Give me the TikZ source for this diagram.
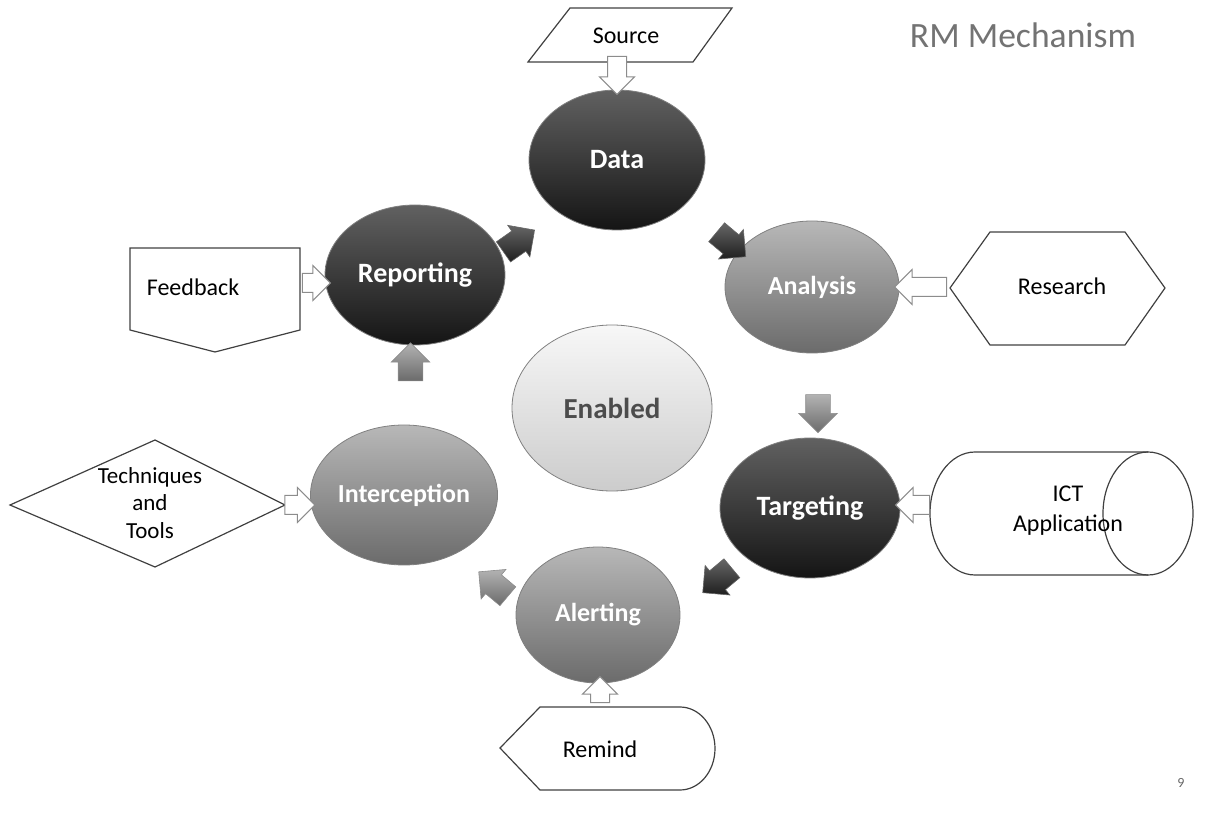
\documentclass[tikz,border=0pt]{standalone}
\usepackage{fontspec}
\setmainfont{Carlito}
\usetikzlibrary{shapes.geometric,shapes.arrows,calc}

\begin{document}
\begin{tikzpicture}[x=0.5pt,y=-0.5pt,
	blob/.style={ellipse,draw=black!50,line width=0.4pt,inner sep=0pt},
	darkblob/.style={blob,top color=black!62,bottom color=black!92,text=white,font=\bfseries\fontsize{14}{16}\selectfont},
	midblob/.style={blob,top color=black!28,bottom color=black!58,text=white,font=\bfseries\fontsize{13}{15}\selectfont},
	lightblob/.style={blob,top color=black!3,bottom color=black!20,text=black!70,font=\bfseries\fontsize{14.5}{16}\selectfont},
	lbl/.style={font=\fontsize{12}{14.5}\selectfont,align=center},
	boxline/.style={draw=black!75,line width=0.6pt},
	bigarr/.style={single arrow,minimum height=19pt,single arrow head extend=3.5pt,inner xsep=0pt,inner ysep=6pt},
	darkarr/.style={bigarr,top color=black!60,bottom color=black!88,draw=black!60,line width=0.3pt},
	midarr/.style={bigarr,top color=black!30,bottom color=black!58,draw=black!45,line width=0.3pt},
	hollow/.style={single arrow,draw=black!45,fill=white,line width=0.5pt,single arrow head extend=4pt,inner xsep=0pt,inner ysep=4.5pt}
]
\useasboundingbox (0,0) rectangle (1228,818);

\path (1023,35) node[text=black!55,font=\fontsize{17.8}{20}\selectfont] (title) {RM Mechanism};
\path (1181,783) node[text=black!60,font=\fontsize{7}{8}\selectfont] (pg) {9};

\path (617,160) node[darkblob,minimum width=88pt,minimum height=70pt] (data) {Data};
\path (812,287) node[midblob,minimum width=87pt,minimum height=66pt] (ana) {Analysis};
\path (415,275) node[darkblob,minimum width=90pt,minimum height=70pt] (rep) {Reporting};
\path (612,408) node[lightblob,minimum width=100pt,minimum height=83pt] (ena) {Enabled};
\path (810,508) node[darkblob,minimum width=90pt,minimum height=70pt] (tgt) {Targeting};
\path (404,495) node[midblob,minimum width=86pt,minimum height=70pt] (icp) {Interception};
\path (598,615) node[midblob,minimum width=82pt,minimum height=68pt] (alr) {Alerting};

\draw[boxline] (570,8) -- (732,8) -- (693,62) -- (528,62) -- cycle;
\path (626,36) node[lbl] (src) {Source};

\draw[boxline] (130,248) -- (300,248) -- (300,330) -- (215,352) -- (130,330) -- cycle;
\path (193,287) node[lbl] (fb) {Feedback};

\draw[boxline] (950,288) -- (990,232) -- (1125,232) -- (1165,288) -- (1125,345) -- (990,345) -- cycle;
\path (1062,286) node[lbl] (res) {Research};

\draw[boxline] (10,505) -- (155,440) -- (285,505) -- (155,567) -- cycle;
\path (150,503) node[lbl,font=\fontsize{11.5}{13.8}\selectfont] (tnt) {Techniques\\and\\Tools};

\draw[boxline] (1148,452) -- (975,452) arc[start angle=270,end angle=90,x radius=45,y radius=61.5] -- (1148,575);
\draw[boxline] (1148,513.5) ellipse [x radius=45,y radius=61.5];
\path (1068,511) node[lbl,font=\fontsize{12}{15}\selectfont] (ict) {ICT\\Application};

\draw[boxline] (500,748) -- (540,707) -- (680,707) arc[start angle=270,end angle=450,x radius=35,y radius=41.5] -- (540,790) -- cycle;
\path (600,749) node[lbl] (rem) {Remind};

\node[darkarr,rotate=35] (a1) at ($(rep)!0.5!(data)+(-2,27)$) {};
\node[darkarr,rotate=-40] (a2) at ($(data)!0.5!(ana)+(12,17)$) {};
\node[midarr,rotate=-90] (a3) at ($(ana)!0.5!(tgt)+(7,10)$) {};
\node[darkarr,rotate=220] (a4) at ($(tgt)!0.5!(alr)+(18,15)$) {};
\node[midarr,rotate=140] (a5) at ($(alr)!0.5!(icp)+(-3,33)$) {};
\node[midarr,rotate=90] (a6) at ($(icp)!0.5!(rep)+(1,-17)$) {};

\node[hollow,rotate=-90,minimum height=19pt] (h1) at ($(data.north)+(0,-19)$) {};
\node[hollow,minimum height=14pt] (h2) at ($(rep.west)+(-13,8)$) {};
\node[hollow,rotate=180,minimum height=26pt] (h3) at ($(ana.east)+(26,0)$) {};
\node[hollow,minimum height=15pt] (h4) at ($(icp.west)+(-15,10)$) {};
\node[hollow,rotate=180,minimum height=17pt] (h5) at ($(tgt.east)+(17,-3)$) {};
\node[hollow,rotate=90,minimum height=13pt] (h6) at ($(alr.south)+(2,11)$) {};
\end{tikzpicture}
\end{document}
